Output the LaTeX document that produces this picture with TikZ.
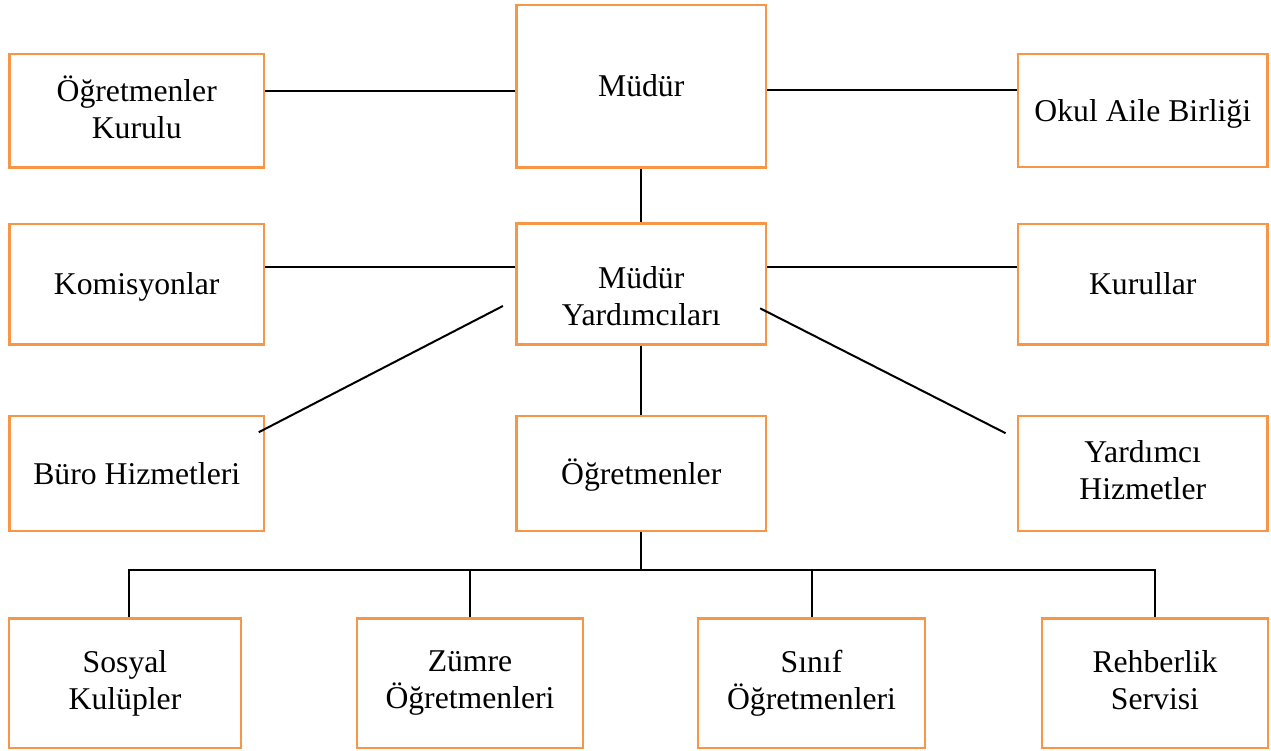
\documentclass[tikz,border=0pt]{standalone}
\usepackage{fontspec}
\setmainfont{Liberation Serif}
\usetikzlibrary{calc}
\definecolor{boxorange}{HTML}{F79646}
\begin{document}
\begin{tikzpicture}[x=1pt,y=-1pt,
  box/.style={draw=boxorange, line width=2.2pt, rectangle, inner sep=0pt, align=center,
    font=\fontsize{31.7pt}{37pt}\selectfont,
    execute at begin node={\rule{0pt}{28.2pt}},
    execute at end node={\rule[-6.8pt]{0pt}{6.8pt}}},
  wide/.style={minimum width=254.5pt},
  mid/.style={minimum width=249.5pt},
  conn/.style={draw=black, line width=2pt}]
\useasboundingbox (0,0) rectangle (1271,751);
% top row
\node[box, wide, minimum height=113.5pt] (okk) at (136.75,110.75) {Öğretmenler\\Kurulu};
\node[box, mid, minimum height=162.5pt] (mudur) at (641.25,86.25) {Müdür};
\node[box, mid, minimum height=113pt] (okul) at (1142.75,110.5) {Okul Aile Birliği};
% second row
\node[box, wide, minimum height=120.5pt] (kom) at (136.75,284.25) {Komisyonlar};
\node[box, mid, minimum height=121pt] (my) at (641.25,284) {\rule{0pt}{51.8pt}Müdür\\Yardımcıları};
\node[box, mid, minimum height=120.5pt] (kur) at (1142.75,284.25) {Kurullar};
% third row
\node[box, wide, minimum height=115pt] (buro) at (136.75,473.5) {Büro Hizmetleri};
\node[box, mid, minimum height=115pt] (ogr) at (641.25,473.5) {Öğretmenler};
\node[box, mid, minimum height=115pt] (yh) at (1142.75,473.5) {Yardımcı\\Hizmetler};
% bottom row
\node[box, minimum width=232pt, minimum height=129.5pt] (sos) at (125,683.25) {Sosyal\\Kulüpler};
\node[box, minimum width=226pt, minimum height=129.5pt] (zum) at (470,683.25) {Zümre\\Öğretmenleri};
\node[box, minimum width=227pt, minimum height=129.5pt] (sin) at (811.5,683.25) {Sınıf\\Öğretmenleri};
\node[box, minimum width=226pt, minimum height=129.5pt] (reh) at (1155,683.25) {Rehberlik\\Servisi};
% connectors
\draw[conn] ([yshift=20pt]okk.east) -- ([yshift=20pt]okk.east -| mudur.west);
\draw[conn] ([yshift=20pt]okul.west) -- ([yshift=20pt]okul.west -| mudur.east);
\draw[conn] (mudur.south) -- (my.north);
\draw[conn] ([yshift=17pt]kom.east) -- ([yshift=17pt]kom.east -| my.west);
\draw[conn] ([yshift=17pt]kur.west) -- ([yshift=17pt]kur.west -| my.east);
\draw[conn] ($(my.west)+(-12.5,22)$) -- ($(buro.north east)+(-6.3,17.3)$);
\draw[conn] ($(my.east)+(-7,24.3)$) -- ($(yh.north west)+(-11.3,18.3)$);
\draw[conn] (my.south) -- (ogr.north);
\coordinate (bus) at (641.25,570);
\draw[conn] (ogr.south) -- (bus);
\draw[conn] ([xshift=4pt]sos.north) -- ([xshift=4pt]sos.north |- bus) -- (reh.north |- bus) -- (reh.north);
\draw[conn] (zum.north) -- (zum.north |- bus);
\draw[conn] (sin.north) -- (sin.north |- bus);
\end{tikzpicture}
\end{document}
